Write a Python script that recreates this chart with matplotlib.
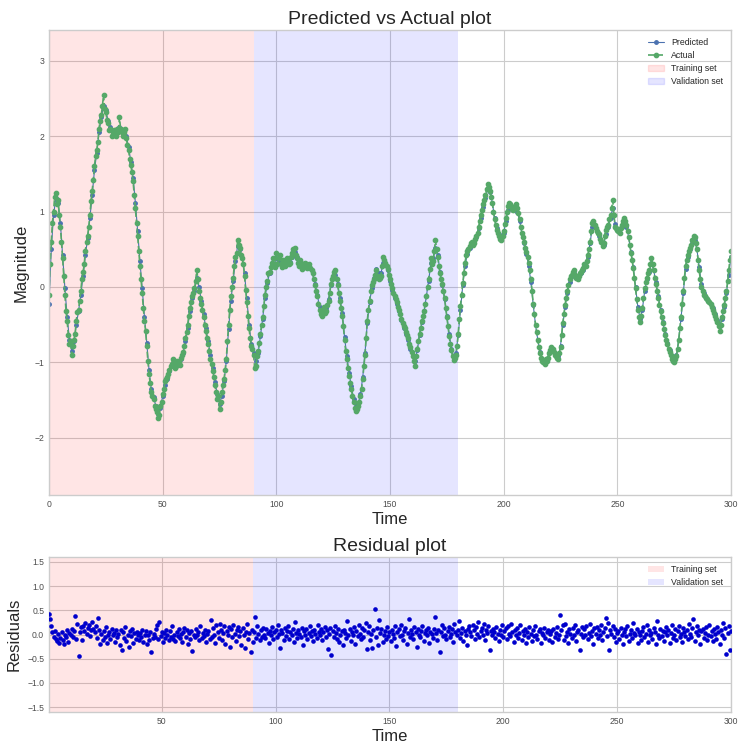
import numpy as np
import matplotlib
matplotlib.use("Agg")
import matplotlib.pyplot as plt
from matplotlib.patches import Patch
from matplotlib.lines import Line2D

# Actual magnitude at whole time units (t = 0..300)
actual = [
    -0.10, 0.60, 1.00, 1.25, 1.15, 0.80, 0.38, -0.10, -0.45, -0.75,
    -0.90, -0.70, -0.45, -0.30, -0.05, 0.20, 0.48, 0.68, 0.95, 1.28,
    1.60, 1.82, 2.10, 2.28, 2.55, 2.32, 2.18, 2.10, 2.05, 2.02,
    2.10, 2.25, 2.05, 2.06, 1.98, 1.82, 1.62, 1.40, 1.05, 0.68,
    0.28, -0.08, -0.45, -0.78, -1.15, -1.40, -1.48, -1.62, -1.74, -1.58,
    -1.42, -1.25, -1.20, -1.10, -1.02, -0.98, -1.05, -1.00, -0.94, -0.86,
    -0.68, -0.50, -0.28, -0.12, -0.02, 0.22, -0.05, -0.22, -0.40, -0.58,
    -0.75, -0.95, -1.12, -1.30, -1.48, -1.62, -1.40, -1.22, -0.95, -0.50,
    -0.12, 0.12, 0.40, 0.62, 0.52, 0.38, 0.15, -0.20, -0.55, -0.78,
    -0.90, -1.05, -0.85, -0.62, -0.40, -0.10, 0.08, 0.20, 0.32, 0.30,
    0.45, 0.38, 0.30, 0.36, 0.28, 0.35, 0.32, 0.45, 0.52, 0.38,
    0.28, 0.32, 0.26, 0.30, 0.28, 0.25, 0.18, 0.02, -0.12, -0.30,
    -0.38, -0.26, -0.32, -0.18, 0.04, 0.15, 0.22, 0.02, -0.18, -0.38,
    -0.70, -0.95, -1.18, -1.35, -1.52, -1.65, -1.58, -1.45, -1.22, -0.90,
    -0.45, -0.18, 0.02, 0.10, 0.22, 0.10, 0.15, 0.40, 0.32, 0.24,
    0.10, -0.02, -0.12, -0.20, -0.30, -0.42, -0.52, -0.60, -0.68, -0.80,
    -0.92, -1.05, -0.82, -0.62, -0.45, -0.32, -0.12, 0.10, 0.38, 0.35,
    0.62, 0.40, 0.18, 0.04, -0.15, -0.40, -0.65, -0.84, -0.97, -0.90,
    -0.62, -0.25, 0.05, 0.32, 0.48, 0.54, 0.60, 0.58, 0.68, 0.80,
    0.95, 1.10, 1.22, 1.36, 1.28, 1.12, 0.90, 0.76, 0.68, 0.62,
    0.74, 0.92, 1.08, 1.10, 1.02, 1.08, 1.05, 0.90, 0.72, 0.60,
    0.46, 0.32, 0.10, -0.22, -0.50, -0.70, -0.88, -0.98, -1.02, -0.98,
    -0.88, -0.80, -0.86, -0.92, -0.96, -0.80, -0.48, -0.24, -0.05, 0.10,
    0.16, 0.22, 0.12, 0.14, 0.20, 0.25, 0.28, 0.42, 0.60, 0.85,
    0.82, 0.74, 0.70, 0.60, 0.58, 0.76, 0.82, 0.96, 1.15, 0.80,
    0.76, 0.72, 0.82, 0.92, 0.82, 0.66, 0.45, 0.25, -0.02, -0.30,
    -0.46, -0.28, -0.02, 0.12, 0.22, 0.38, 0.22, 0.04, -0.14, -0.32,
    -0.48, -0.64, -0.76, -0.86, -0.96, -1.00, -0.92, -0.70, -0.40, -0.05,
    0.28, 0.42, 0.52, 0.62, 0.66, 0.50, 0.22, 0.00, -0.10, -0.15,
    -0.18, -0.22, -0.30, -0.38, -0.46, -0.58, -0.40, -0.24, -0.06, 0.22,
    0.48,
]

# Actual magnitude at half time units (t = 0.5..299.5)
actual_mid = [
    0.30, 0.85, 1.20, 1.10, 0.96, 0.60, 0.15, -0.32, -0.64, -0.72,
    -0.78, -0.62, -0.33, -0.18, 0.10, 0.30, 0.60, 0.80, 1.14, 1.42,
    1.74, 1.92, 2.20, 2.40, 2.36, 2.22, 2.08, 2.00, 2.08, 2.00,
    2.06, 2.10, 2.00, 2.10, 1.88, 1.70, 1.52, 1.22, 0.85, 0.48,
    0.10, -0.28, -0.58, -0.98, -1.28, -1.44, -1.58, -1.66, -1.70, -1.52,
    -1.36, -1.22, -1.16, -1.05, -0.96, -1.08, -0.98, -1.04, -0.90, -0.78,
    -0.60, -0.38, -0.20, -0.08, 0.08, 0.10, -0.14, -0.30, -0.50, -0.68,
    -0.85, -1.02, -1.20, -1.40, -1.44, -1.52, -1.30, -1.10, -0.72, -0.30,
    0.00, 0.28, 0.45, 0.56, 0.42, 0.30, -0.04, -0.38, -0.68, -0.82,
    -1.08, -0.92, -0.74, -0.50, -0.25, 0.00, 0.18, 0.26, 0.38, 0.26,
    0.30, 0.42, 0.26, 0.33, 0.38, 0.30, 0.40, 0.50, 0.42, 0.32,
    0.36, 0.24, 0.32, 0.25, 0.30, 0.22, 0.10, -0.05, -0.22, -0.36,
    -0.30, -0.34, -0.24, -0.08, 0.10, 0.20, 0.10, -0.08, -0.28, -0.52,
    -0.85, -1.08, -1.28, -1.45, -1.60, -1.62, -1.52, -1.35, -1.05, -0.68,
    -0.30, -0.06, 0.06, 0.16, 0.14, 0.12, 0.28, 0.36, 0.28, 0.16,
    0.04, -0.08, -0.16, -0.26, -0.36, -0.48, -0.55, -0.64, -0.75, -0.86,
    -0.98, -0.92, -0.72, -0.54, -0.38, -0.22, 0.00, 0.24, 0.30, 0.48,
    0.50, 0.28, 0.10, -0.06, -0.28, -0.52, -0.76, -0.92, -0.94, -0.78,
    -0.42, -0.10, 0.18, 0.42, 0.50, 0.58, 0.56, 0.64, 0.72, 0.88,
    1.02, 1.16, 1.30, 1.32, 1.20, 1.00, 0.82, 0.72, 0.64, 0.68,
    0.84, 1.00, 1.12, 1.04, 1.06, 1.10, 0.98, 0.80, 0.66, 0.52,
    0.40, 0.22, -0.06, -0.36, -0.60, -0.80, -0.94, -1.00, -0.96, -0.94,
    -0.84, -0.82, -0.90, -0.94, -0.88, -0.64, -0.36, -0.14, 0.02, 0.14,
    0.20, 0.16, 0.10, 0.18, 0.22, 0.30, 0.35, 0.50, 0.74, 0.88,
    0.78, 0.72, 0.64, 0.54, 0.68, 0.80, 0.90, 1.05, 0.96, 0.78,
    0.74, 0.78, 0.88, 0.88, 0.74, 0.56, 0.36, 0.12, -0.16, -0.40,
    -0.38, -0.15, 0.06, 0.18, 0.30, 0.30, 0.12, -0.05, -0.24, -0.40,
    -0.56, -0.70, -0.82, -0.90, -0.98, -0.96, -0.82, -0.55, -0.22, 0.12,
    0.36, 0.48, 0.56, 0.68, 0.58, 0.36, 0.10, -0.06, -0.12, -0.16,
    -0.20, -0.26, -0.34, -0.42, -0.52, -0.50, -0.32, -0.14, 0.08, 0.36,
]

# Predicted magnitude at whole time units (t = 0..300)
predicted = [
    -0.22, 0.50, 0.95, 1.18, 1.12, 0.85, 0.42, -0.02, -0.40, -0.70,
    -0.85, -0.72, -0.50, -0.32, -0.10, 0.15, 0.42, 0.65, 0.92, 1.22,
    1.55, 1.78, 2.05, 2.25, 2.40, 2.35, 2.20, 2.12, 2.06, 2.04,
    2.06, 2.12, 2.08, 2.04, 2.00, 1.86, 1.66, 1.45, 1.12, 0.74,
    0.34, -0.02, -0.40, -0.74, -1.10, -1.36, -1.46, -1.58, -1.68, -1.60,
    -1.45, -1.30, -1.22, -1.12, -1.05, -1.00, -1.02, -1.00, -0.95, -0.88,
    -0.72, -0.54, -0.32, -0.15, -0.05, 0.12, 0.00, -0.18, -0.36, -0.55,
    -0.72, -0.90, -1.08, -1.26, -1.42, -1.55, -1.45, -1.25, -0.98, -0.56,
    -0.18, 0.08, 0.35, 0.55, 0.50, 0.38, 0.18, -0.15, -0.50, -0.75,
    -0.88, -0.98, -0.88, -0.65, -0.42, -0.14, 0.05, 0.18, 0.28, 0.30,
    0.38, 0.36, 0.32, 0.34, 0.30, 0.33, 0.33, 0.40, 0.46, 0.40,
    0.30, 0.30, 0.28, 0.29, 0.28, 0.25, 0.18, 0.04, -0.10, -0.26,
    -0.34, -0.28, -0.28, -0.16, 0.02, 0.12, 0.16, 0.04, -0.15, -0.35,
    -0.66, -0.92, -1.14, -1.32, -1.48, -1.58, -1.56, -1.42, -1.20, -0.88,
    -0.48, -0.20, -0.02, 0.12, 0.24, 0.18, 0.18, 0.32, 0.30, 0.22,
    0.08, -0.04, -0.14, -0.22, -0.32, -0.44, -0.54, -0.62, -0.70, -0.82,
    -0.92, -0.98, -0.84, -0.64, -0.47, -0.32, -0.12, 0.08, 0.32, 0.38,
    0.52, 0.42, 0.20, 0.02, -0.16, -0.38, -0.62, -0.82, -0.92, -0.88,
    -0.64, -0.30, 0.02, 0.28, 0.44, 0.52, 0.58, 0.60, 0.66, 0.78,
    0.92, 1.06, 1.18, 1.30, 1.26, 1.12, 0.92, 0.78, 0.70, 0.66,
    0.72, 0.88, 1.02, 1.06, 1.02, 1.04, 1.00, 0.88, 0.72, 0.58,
    0.44, 0.28, 0.06, -0.24, -0.50, -0.70, -0.86, -0.95, -0.98, -0.95,
    -0.88, -0.82, -0.86, -0.90, -0.92, -0.78, -0.50, -0.26, -0.08, 0.06,
    0.14, 0.18, 0.14, 0.14, 0.18, 0.22, 0.28, 0.40, 0.58, 0.80,
    0.80, 0.74, 0.68, 0.60, 0.56, 0.70, 0.80, 0.92, 1.05, 0.84,
    0.76, 0.72, 0.80, 0.86, 0.80, 0.66, 0.46, 0.26, 0.00, -0.26,
    -0.42, -0.30, -0.06, 0.10, 0.20, 0.32, 0.22, 0.06, -0.12, -0.30,
    -0.46, -0.62, -0.74, -0.84, -0.92, -0.96, -0.90, -0.70, -0.42, -0.08,
    0.24, 0.40, 0.50, 0.58, 0.62, 0.50, 0.26, 0.04, -0.08, -0.14,
    -0.18, -0.22, -0.28, -0.36, -0.44, -0.52, -0.42, -0.26, -0.08, 0.16,
    0.40,
]

# Residuals, two per time unit (t = 0.5..300)
residuals = [
    0.43, 0.32, 0.18, 0.05, -0.05, 0.08, -0.10, -0.14, 0.02, -0.18, -0.08, 0.06, -0.12, -0.20, 0.00, -0.06, 0.10, -0.15, 0.04, -0.02,
    0.12, -0.05, 0.08, 0.39, -0.10, 0.22, -0.45, 0.05, 0.15, -0.12, 0.18, 0.08, 0.24, 0.02, 0.14, 0.20, -0.03, 0.10, 0.26, 0.12,
    0.05, 0.18, -0.08, 0.34, 0.10, -0.20, 0.02, -0.12, 0.08, -0.05, 0.15, -0.18, 0.00, 0.06, -0.10, 0.12, -0.02, 0.04, -0.15, 0.09,
    -0.06, 0.02, -0.22, 0.10, -0.32, 0.05, -0.08, 0.16, -0.14, 0.00, -0.25, 0.08, -0.04, 0.12, -0.18, 0.03, -0.10, 0.06, -0.02, -0.12,
    0.04, -0.06, 0.10, -0.15, -0.02, 0.08, -0.20, 0.00, -0.12, 0.05, -0.37, -0.08, 0.02, -0.05, 0.12, 0.20, -0.10, 0.25, -0.04, 0.06,
    -0.15, 0.03, -0.08, 0.10, -0.02, -0.12, 0.08, -0.06, 0.18, -0.10, 0.00, -0.14, 0.05, -0.03, 0.12, -0.08, 0.02, -0.16, 0.06, 0.14,
    -0.05, 0.10, -0.20, 0.03, -0.10, 0.08, -0.34, 0.00, -0.06, 0.12, -0.02, 0.06, -0.12, 0.18, -0.08, 0.04, -0.04, 0.10, -0.15, 0.02,
    0.08, -0.10, 0.30, -0.05, 0.14, 0.00, -0.18, 0.20, 0.06, -0.08, 0.22, 0.10, -0.12, 0.04, 0.18, -0.20, 0.08, -0.02, 0.15, -0.25,
    0.12, -0.06, 0.20, 0.02, -0.14, 0.10, 0.16, -0.04, 0.08, -0.22, 0.14, 0.00, -0.28, 0.06, 0.22, -0.10, 0.04, -0.37, 0.10, -0.15,
    0.05, 0.36, -0.08, 0.18, 0.02, -0.12, 0.10, -0.05, 0.14, 0.00, -0.08, 0.12, 0.04, -0.18, 0.08, -0.02, 0.16, -0.10, 0.06, 0.10,
    -0.06, 0.20, 0.02, -0.28, 0.10, 0.04, -0.12, 0.14, -0.04, 0.08, 0.18, -0.10, 0.06, 0.00, 0.12, -0.16, 0.25, 0.04, -0.08, 0.10,
    0.02, -0.06, 0.14, -0.22, 0.08, 0.00, 0.12, -0.10, 0.04, 0.18, -0.04, 0.08, -0.14, 0.10, 0.02, -0.08, 0.20, 0.06, -0.02, 0.12,
    -0.12, 0.06, 0.16, -0.05, 0.10, -0.30, 0.02, 0.14, -0.43, 0.08, -0.06, 0.18, 0.04, -0.10, 0.12, -0.16, 0.00, 0.08, -0.22, 0.10,
    0.04, -0.08, 0.28, -0.02, 0.12, -0.14, 0.06, 0.00, 0.16, -0.20, 0.08, -0.04, 0.20, 0.02, -0.10, 0.14, -0.06, 0.10, 0.24, -0.30,
    0.06, 0.18, -0.12, 0.02, -0.28, 0.10, 0.52, -0.06, 0.14, -0.22, 0.30, 0.04, 0.12, -0.16, 0.00, 0.08, -0.10, 0.16, -0.04, 0.06,
    -0.14, 0.10, 0.02, -0.08, 0.18, -0.24, 0.06, 0.12, -0.04, 0.20, 0.00, -0.12, 0.08, 0.14, -0.20, 0.04, 0.33, -0.06, 0.10, 0.02,
    -0.10, 0.16, 0.06, -0.26, 0.12, 0.00, -0.06, 0.08, 0.18, -0.14, 0.04, 0.10, -0.02, 0.14, -0.18, 0.06, 0.02, -0.08, 0.12, 0.36,
    0.04, -0.12, 0.10, -0.36, 0.06, 0.20, -0.04, 0.14, 0.00, -0.10, 0.08, 0.16, -0.06, 0.02, 0.12, -0.16, 0.22, 0.06, -0.02, 0.10,
    0.28, -0.08, 0.04, 0.14, -0.14, 0.08, 0.00, -0.22, 0.12, 0.18, 0.06, -0.04, 0.20, 0.10, -0.10, 0.16, 0.02, 0.26, -0.06, 0.08,
    0.14, 0.00, 0.22, -0.12, 0.10, 0.04, 0.18, -0.31, 0.08, -0.02, 0.12, 0.06, -0.08, 0.16, 0.02, -0.14, 0.10, 0.00, 0.20, -0.06,
    0.08, 0.14, -0.10, 0.18, 0.02, -0.04, 0.22, 0.06, -0.16, 0.10, 0.00, 0.14, -0.08, 0.04, 0.20, -0.12, 0.08, -0.02, 0.12, -0.18,
    0.06, -0.06, 0.16, 0.02, -0.14, 0.10, -0.04, 0.18, 0.00, -0.10, 0.08, 0.12, -0.18, 0.04, -0.02, 0.14, -0.08, 0.06, 0.10, -0.12,
    0.02, 0.08, -0.16, 0.12, -0.06, 0.04, 0.16, -0.10, 0.00, 0.41, 0.10, 0.20, -0.12, 0.22, -0.04, 0.06, -0.18, 0.12, 0.02, -0.08,
    0.14, -0.02, 0.20, -0.14, 0.06, 0.10, -0.32, 0.02, 0.16, -0.06, 0.12, 0.00, 0.18, -0.10, 0.04, 0.22, -0.04, 0.08, -0.20, 0.14,
    0.02, 0.16, -0.08, 0.10, 0.00, 0.20, -0.12, 0.06, 0.14, 0.34, -0.04, 0.24, -0.32, 0.10, 0.02, 0.18, -0.06, 0.12, -0.16, 0.04,
    0.08, -0.10, 0.14, 0.00, -0.20, 0.06, 0.12, -0.04, 0.18, -0.14, 0.02, 0.10, -0.08, 0.24, 0.04, -0.02, 0.12, -0.18, 0.06, 0.00,
    -0.12, 0.08, 0.16, -0.06, 0.02, 0.20, -0.16, 0.10, -0.02, 0.04, -0.10, 0.14, 0.06, -0.20, 0.28, 0.00, -0.08, 0.12, -0.04, 0.08,
    -0.14, 0.06, 0.16, -0.02, 0.10, -0.18, 0.04, 0.20, -0.08, 0.00, 0.12, -0.12, 0.08, 0.18, -0.06, 0.02, -0.16, 0.14, 0.06, -0.04,
    0.10, -0.10, 0.22, 0.02, -0.06, 0.14, 0.32, -0.14, 0.06, 0.18, -0.02, 0.10, -0.20, 0.08, 0.12, -0.08, 0.04, 0.16, -0.12, 0.00,
    0.20, -0.04, 0.08, -0.14, 0.12, 0.02, -0.10, 0.16, 0.06, -0.20, 0.10, 0.00, 0.24, -0.08, 0.14, -0.41, 0.04, 0.18, -0.31, 0.08,
]

train_end = 90
valid_end = 180

t = np.arange(len(predicted))
actual_all = np.empty(len(actual) + len(actual_mid))
actual_all[0::2] = actual
actual_all[1::2] = actual_mid
t_all = np.arange(len(actual_all)) * 0.5
t_res = np.arange(1, len(residuals) + 1) * 0.5

plt.style.use("seaborn-v0_8-whitegrid")
plt.rcParams["font.family"] = ["Liberation Sans", "DejaVu Sans"]

fig = plt.figure(figsize=(7.39, 7.44), dpi=100)
ax1 = fig.add_axes([0.0663, 0.3347, 0.9229, 0.625])
ax2 = fig.add_axes([0.0663, 0.0430, 0.9229, 0.2083])

leg_kw = dict(loc="upper right", fontsize=6.3, frameon=False, handlelength=1.9,
              handletextpad=0.8, labelspacing=0.45, borderaxespad=0.5)

# top: predicted vs actual
ax1.axvspan(0, train_end, color="red", alpha=0.1, lw=0)
ax1.axvspan(train_end, valid_end, color="blue", alpha=0.1, lw=0)
ax1.plot(t, predicted, ".-", color="#4C72B0", lw=0.8, ms=5)
ax1.plot(t_all, actual_all, "o--", color="#55A868", lw=1.2, ms=3.1)
ax1.set_xlim(0, 300)
ax1.set_ylim(-2.76, 3.41)
ax1.set_xticks([0, 50, 100, 150, 200, 250, 300])
ax1.set_yticks([-2, -1, 0, 1, 2, 3])
ax1.set_title("Predicted vs Actual plot", fontsize=14, pad=4)
ax1.set_xlabel("Time", fontsize=12, labelpad=2)
ax1.set_ylabel("Magnitude", fontsize=12, labelpad=4)
ax1.tick_params(labelsize=6.2, colors="0.3")

handles = [
    Line2D([], [], color="#4C72B0", lw=0.8, marker=".", ms=5),
    Line2D([], [], color="#55A868", lw=1.2, ls="--", marker="o", ms=3.1),
    Patch(color="red", alpha=0.1),
    Patch(color="blue", alpha=0.1),
]
ax1.legend(handles, ["Predicted", "Actual", "Training set", "Validation set"], **leg_kw)

# bottom: residuals
ax2.axvspan(0, train_end, color="red", alpha=0.1, lw=0, label="Training set")
ax2.axvspan(train_end, valid_end, color="blue", alpha=0.1, lw=0, label="Validation set")
ax2.scatter(t_res, residuals, s=11, color="#0000CC", lw=0, zorder=3)
ax2.set_xlim(0.5, 300)
ax2.set_ylim(-1.6, 1.6)
ax2.set_xticks([50, 100, 150, 200, 250, 300])
ax2.set_yticks([-1.5, -1.0, -0.5, 0.0, 0.5, 1.0, 1.5])
ax2.set_title("Residual plot", fontsize=14, pad=4)
ax2.set_xlabel("Time", fontsize=12, labelpad=2)
ax2.set_ylabel("Residuals", fontsize=12, labelpad=4)
ax2.tick_params(labelsize=6.2, colors="0.3")
ax2.legend(**leg_kw)

fig.savefig("out.png", dpi=100)
